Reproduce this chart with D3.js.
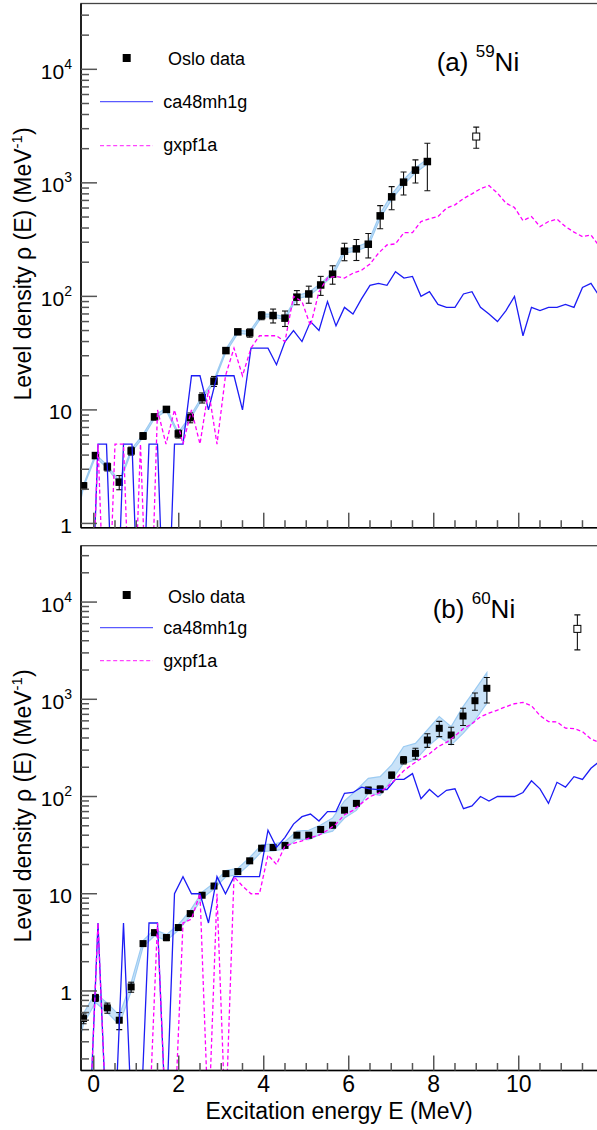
<!DOCTYPE html>
<html><head><meta charset="utf-8">
<script src="https://cdn.jsdelivr.net/npm/d3@7"></script>
<style>body{margin:0;background:#fff} text{font-family:"Liberation Sans",Arial,Helvetica,sans-serif;fill:#000}</style>
</head><body><svg id="c" width="597" height="1130"></svg>
<script>
// ---------------- DATA ----------------
// model curves: level densities on a 0.2 MeV grid (MeV^-1)
const modelE = [-0.1,0.1,0.3,0.5,0.7,0.9,1.1,1.3,1.5,1.7,1.9,2.1,2.3,2.5,2.7,2.9,3.1,3.3,3.5,3.7,3.9,4.1,4.3,4.5,4.7,4.9,5.1,5.3,5.5,5.7,5.9,6.1,6.3,6.5,6.7,6.9,7.1,7.3,7.5,7.7,7.9,8.1,8.3,8.5,8.7,8.9,9.1,9.3,9.5,9.7,9.9,10.1,10.3,10.5,10.7,10.9,11.1,11.3,11.5,11.7,11.9];
const ca48mh1gA = [0,5,5,0,5,5,0,5,5,0, 5,5,20,20,10,20,20,20,10,35, 35,35,25,40,50,40,60,50,90,55, 80,70,95,125,130,125,165,145,150,100, 110,85,80,80,105,110,80,70,60,75, 100,45,80,75,80,80,85,80,120,130,100];
const gxpf1aA   = [0,5,0,5,5,0,5,0,10,5, 10,5,10,5,15,5,20,35,20,35, 45,45,45,40,100,90,55,110,145,150, 145,160,170,193,240,284,290,365,365,456, 482,505,598,640,727,800,886,947,811,662, 606,465,505,412,456,479,412,368,336,348,275];
const ca48mh1gB = [0,5,0,0,5,0,0,5,5,0, 10,15,10,10,5,15,10,15,15,15, 15,45,30,38,52,62,66,56,70,70, 108,110,125,120,118,118,150,150,172,95, 118,99,116,120,75,80,100,90,100,100, 100,110,145,120,85,140,125,160,150,195,230];
const gxpf1aB   = [0,5,0,0,0,0,0,0,5,0, 0,5,5.5,10,0,10,0,15,12,10, 10,25,20,31,33,35,38,40,45,52, 65,72,85,100,108,125,150,185,215,245, 275,325,360,420,500,560,660,720,775,840, 900,930,860,680,590,585,505,500,465,390,360];

// Oslo data
const osloE_A = [-0.24,0.04,0.32,0.60,0.88,1.16,1.43,1.71,1.99,2.27,2.55,2.83,3.11,3.39,3.67,3.95,4.22,4.50,4.78,5.06,5.34,5.62,5.90,6.18,6.46,6.74,7.01,7.29,7.57,7.85];
const osloA    = [2.14,3.96,3.15,2.31,4.35,5.90,8.68,10.1,6.15,8.55,12.8,17.9,33.3,48.7,47.7,67.8,67.8,64.3,98.4,105,126,157,250,262,288,512,753,1014,1294,1541];
const osloErrA = [0.15,0.2,0.25,0.33,0.35,0.4,0.5,0.5,0.5,0.85,1.3,1.8,1.5,2,4,5.5,9.5,10,14,18,24,29,44,55,70,118,173,233,298,690];
const osloE_B = [-0.24,0.04,0.32,0.60,0.88,1.16,1.43,1.71,1.99,2.27,2.55,2.83,3.11,3.39,3.67,3.95,4.22,4.50,4.78,5.06,5.34,5.62,5.90,6.18,6.46,6.74,7.01,7.29,7.57,7.85,8.13,8.41,8.69,8.97,9.25];
const osloB    = [0.52,0.85,0.67,0.50,1.10,3.07,3.98,3.54,4.49,6.25,9.65,12.0,16.1,16.9,21.8,29.4,29.9,31.4,40.0,40.0,45.8,50.7,72.3,85,116,119,166,237,278,381,503,429,673,967,1297];
const osloErrB = [0.06,0.07,0.08,0.10,0.13,0.15,0.2,0.25,0.2,0.25,0.3,0.4,0.5,0.6,0.8,1.0,1.2,1.5,2,2.5,3,3,3,5,9,9.5,12,21,36,61,90,86,135,195,380];

// systematic band
const bandE_A  = [-0.52,-0.24,0.04,0.32,0.60,0.88,1.16,1.43,1.71,1.99,2.27,2.55,2.83,3.11,3.39,3.67,3.95,4.22,4.50,4.78,5.06,5.34,5.62,5.90,6.18,6.46,6.74,7.01,7.29,7.57,7.85];
const bandLoA  = [0.68,2.08,3.84,3.06,2.24,4.22,5.72,8.42,9.8,5.97,8.29,12.4,17.4,32.3,47.2,46.3,65.8,65.8,62.4,95.4,101,122,151,240,251,276,487,715,963,1230,1464];
const bandHiA  = [0.72,2.2,4.08,3.24,2.38,4.48,6.08,8.94,10.4,6.33,8.81,13.2,18.4,34.3,50.2,49.1,69.8,69.8,66.2,101.4,109,130,163,260,273,300,537,791,1065,1360,1620];
const bandE_B  = [-0.52,-0.24,0.04,0.32,0.60,0.88,1.16,1.43,1.71,1.99,2.27,2.55,2.83,3.11,3.39,3.67,3.95,4.22,4.50,4.78,5.06,5.34,5.62,5.90,6.18,6.46,6.74,7.01,7.29,7.57,7.85,8.13,8.41,8.69,8.97,9.25];
const bandLoB  = [0.14,0.46,0.76,0.60,0.45,0.99,2.85,3.7,3.3,4.2,5.85,9.0,11.2,15.0,15.7,20.2,27.2,27.6,28.9,36.5,36,41,44,60,72,108,103,148,219,237,325,412,338,446,612,910];
const bandHiB  = [0.19,0.59,0.95,0.75,0.56,1.22,3.3,4.3,3.8,4.8,6.7,10.4,12.9,17.3,18.2,23.6,31.8,32.5,34.3,44,45,51,60,90,116,154,160,211,325,352,483,663,523,839,1247,1879];

// open-square points (at neutron separation energy)
const openE_A = [9.0],  openV_A = [2558], openErr_A = [540];
const openE_B = [11.38], openV_B = [5300], openErr_B = [2080];

// axis tick labels
const xTickValues = [0,2,4,6,8,10];
const yMajorValues = [1,10,100,1000,10000];
const yMajorBase   = ["1","10","10","10","10"];
const yMajorSup    = ["","","2","3","4"];
const legendNames = ["Oslo data","ca48mh1g","gxpf1a"];
const panelLetters = ["(a) ","(b) "];
const panelMass = ["59","60"];

// ---------------- DRAW ----------------
const svg = d3.select('#c');
svg.append('rect').attr('width',597).attr('height',1130).attr('fill','#fff');
const x = d3.scaleLinear().domain([-0.3,11.95]).range([81,601.6]);
const ZERO = 0.04;
const BLUE = '#1c1cf5', MAG = '#f0f', BAND = '#9ccbf2';

const panels = [
 {top:3.5,bottom:527.7,ymin:0.917,ymax:3.8e4, ca:ca48mh1gA, gx:gxpf1aA,
  oE:osloE_A,o:osloA,oErr:osloErrA, bE:bandE_A,bLo:bandLoA,bHi:bandHiA,
  openE:openE_A,openV:openV_A,openErr:openErr_A, ms:7.5,
  leg:{mk:58,txt:[65,108,151],line:[101.7,145.7]}, lab:{x:436.7,y:71}, titleY:264, xLabels:false},
 {top:545.7,bottom:1070.5,ymin:0.152,ymax:3.8e4, ca:ca48mh1gB, gx:gxpf1aB,
  oE:osloE_B,o:osloB,oErr:osloErrB, bE:bandE_B,bLo:bandLoB,bHi:bandHiB,
  openE:openE_B,openV:openV_B,openErr:openErr_B, ms:7,
  leg:{mk:595,txt:[602.7,634,667.3],line:[627.7,660.7]}, lab:{x:432.7,y:618}, titleY:806, xLabels:true}
];

panels.forEach((p,pi)=>{
  const y = d3.scaleLog().domain([p.ymin,p.ymax]).range([p.bottom,p.top]);
  const g = svg.append('g');
  const cid = 'clip'+pi;
  svg.append('defs').append('clipPath').attr('id',cid).append('rect')
    .attr('x',x.range()[0]).attr('y',p.top).attr('width',x.range()[1]-x.range()[0]).attr('height',p.bottom-p.top);
  const pg = g.append('g').attr('clip-path',`url(#${cid})`);

  // band
  const band = p.bE.map((e,i)=>({e,lo:p.bLo[i],hi:p.bHi[i]}));
  pg.append('path').datum(band)
    .attr('d',d3.area().x(d=>x(d.e)).y0(d=>y(d.lo)).y1(d=>y(d.hi)))
    .attr('fill',BAND).attr('fill-opacity',0.55).attr('stroke',BAND).attr('stroke-width',1.2);

  // data points
  const pts = p.oE.map((e,i)=>({e,v:p.o[i],err:p.oErr[i]}));
  const eb = pg.append('g').attr('stroke','#111').attr('stroke-width',1.1);
  pts.forEach(d=>{
    const x0=x(d.e), yt=y(d.v+d.err), yb=y(Math.max(d.v-d.err,p.ymin*0.5));
    eb.append('line').attr('x1',x0).attr('x2',x0).attr('y1',yt).attr('y2',yb);
    eb.append('line').attr('x1',x0-3).attr('x2',x0+3).attr('y1',yt).attr('y2',yt);
    eb.append('line').attr('x1',x0-3).attr('x2',x0+3).attr('y1',yb).attr('y2',yb);
  });
  pg.append('g').selectAll('rect').data(pts).join('rect')
    .attr('x',d=>x(d.e)-p.ms/2).attr('y',d=>y(d.v)-p.ms/2)
    .attr('width',p.ms).attr('height',p.ms).attr('fill','#000');

  // open point
  p.openE.forEach((e,i)=>{
    const x0=x(e), v=p.openV[i], er=p.openErr[i];
    const yt=y(v+er), yb=y(v-er);
    pg.append('line').attr('x1',x0).attr('x2',x0).attr('y1',yt).attr('y2',yb).attr('stroke','#111').attr('stroke-width',1.1);
    pg.append('line').attr('x1',x0-3).attr('x2',x0+3).attr('y1',yt).attr('y2',yt).attr('stroke','#111').attr('stroke-width',1.1);
    pg.append('line').attr('x1',x0-3).attr('x2',x0+3).attr('y1',yb).attr('y2',yb).attr('stroke','#111').attr('stroke-width',1.1);
    pg.append('rect').attr('x',x0-3.5).attr('y',y(v)-3.5).attr('width',7).attr('height',7)
      .attr('fill','#fff').attr('stroke','#000').attr('stroke-width',1);
  });

  // model curves
  const line = d3.line().x(d=>x(d[0])).y(d=>y(Math.max(d[1],ZERO)));
  pg.append('path').datum(modelE.map((e,i)=>[e,p.ca[i]])).attr('d',line)
    .attr('fill','none').attr('stroke',BLUE).attr('stroke-width',1.3).attr('stroke-linejoin','miter');
  pg.append('path').datum(modelE.map((e,i)=>[e,p.gx[i]])).attr('d',line)
    .attr('fill','none').attr('stroke',MAG).attr('stroke-width',1.3).attr('stroke-dasharray','4,2.6');

  // frame
  const xl=x.range()[0], xr=x.range()[1];
  g.append('rect').attr('x',xl).attr('y',p.top).attr('width',xr-xl).attr('height',p.bottom-p.top)
    .attr('fill','none').attr('stroke','#444').attr('stroke-width',1.3);
  g.append('line').attr('x1',xl).attr('x2',xl).attr('y1',p.top).attr('y2',p.bottom).attr('stroke','#000').attr('stroke-width',1.5);
  g.append('line').attr('x1',xl).attr('x2',xr).attr('y1',p.bottom).attr('y2',p.bottom).attr('stroke','#000').attr('stroke-width',1.5);

  // y ticks
  const tk = g.append('g').attr('stroke','#555').attr('stroke-width',1.5);
  for (let dec=0.1; dec<=1e4; dec*=10){
    for (let k=1;k<=9;k++){
      const v=+(dec*k).toPrecision(3);
      if (v<p.ymin || v>p.ymax) continue;
      const len = k===1?16:8;
      tk.append('line').attr('x1',xl).attr('x2',xl+len).attr('y1',y(v)).attr('y2',y(v));
    }
  }
  yMajorValues.forEach((v,i)=>{
    if (v<p.ymin||v>p.ymax) return;
    const t=g.append('text').attr('x',72).attr('y',y(v)+9.5).attr('text-anchor','end').attr('font-size',21);
    t.append('tspan').text(yMajorBase[i]);
    if (yMajorSup[i]) t.append('tspan').attr('font-size',14).attr('dy',-10).text(yMajorSup[i]);
  });
  // x ticks
  for (let t=0; t<=11.95; t+=0.5){
    const major = Math.abs(t%2)<1e-9;
    tk.append('line').attr('x1',x(t)).attr('x2',x(t)).attr('y1',p.bottom).attr('y2',p.bottom-(major?15:7.5));
  }
  if (p.xLabels){
    xTickValues.forEach(v=>{
      g.append('text').attr('x',x(v)).attr('y',1092).attr('text-anchor','middle').attr('font-size',23).text(v);
    });
  }

  // y title
  const yt = g.append('text').attr('transform',`translate(30.5,${p.titleY}) rotate(-90)`)
    .attr('text-anchor','middle').attr('font-size',23);
  yt.append('tspan').text('Level density \u03C1 (E) (MeV');
  yt.append('tspan').attr('font-size',15).attr('dy',-9).text('-1');
  yt.append('tspan').attr('dy',9).text(')');

  // legend
  g.append('rect').attr('x',126.7-4).attr('y',p.leg.mk-4).attr('width',8).attr('height',8).attr('fill','#000');
  g.append('line').attr('x1',100).attr('x2',153).attr('y1',p.leg.line[0]).attr('y2',p.leg.line[0])
    .attr('stroke','#5a5aff').attr('stroke-width',1.3);
  g.append('line').attr('x1',100).attr('x2',153).attr('y1',p.leg.line[1]).attr('y2',p.leg.line[1])
    .attr('stroke','#f4f').attr('stroke-width',1.3).attr('stroke-dasharray','4,2.6');
  g.append('text').attr('x',168).attr('y',p.leg.txt[0]).attr('font-size',18).text(legendNames[0]);
  g.append('text').attr('x',163.3).attr('y',p.leg.txt[1]).attr('font-size',18).text(legendNames[1]);
  g.append('text').attr('x',163.3).attr('y',p.leg.txt[2]).attr('font-size',18).text(legendNames[2]);

  // panel label
  const lt = g.append('text').attr('x',p.lab.x).attr('y',p.lab.y).attr('font-size',26);
  lt.append('tspan').text(panelLetters[pi]);
  lt.append('tspan').attr('font-size',17).attr('dy',-14.5).text(panelMass[pi]);
  lt.append('tspan').attr('dy',14.5).text('Ni');
});

svg.append('text').attr('x',339).attr('y',1119).attr('text-anchor','middle').attr('font-size',23)
  .text('Excitation energy E (MeV)');
</script></body></html>
